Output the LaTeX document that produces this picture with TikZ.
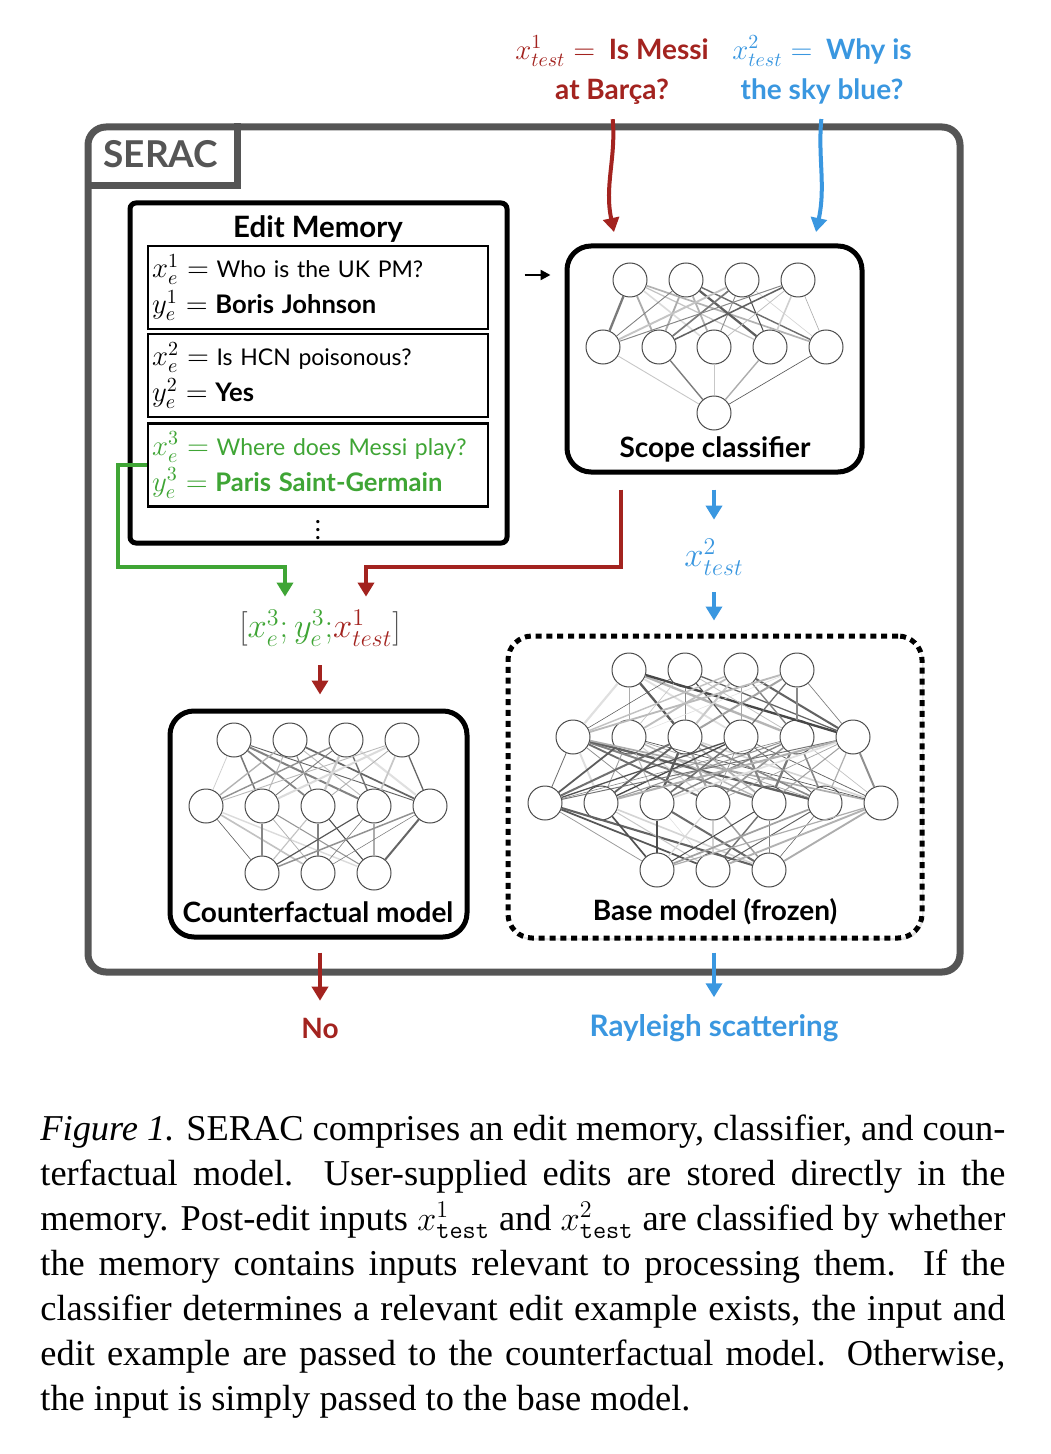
\documentclass[tikz,border=0pt]{standalone}
\usepackage{fontspec}
\setmainfont{Lato}
\newfontfamily\capfont{Liberation Serif}
\usetikzlibrary{arrows.meta,positioning,shadows}
\definecolor{frame}{HTML}{555555}
\definecolor{hitred}{HTML}{A3231F}
\definecolor{missblue}{HTML}{3A97E0}
\definecolor{editgreen}{HTML}{3FA535}
% all connections between two layers of a net, random shade and weight
\newcommand{\wires}[4]{%
  \foreach \i in {1,...,#2}
    \foreach \j in {1,...,#4} {
      \pgfmathsetmacro\g{int(12+62*rnd)}
      \pgfmathsetmacro\w{0.25+0.95*rnd}
      \draw[black!\g, line width=\w pt] (#1\i) -- (#3\j);
    }}
% memory entry pieces
\newcommand{\mv}[2]{{\fontsize{14}{18}\selectfont$#1^{#2}_e=$}}
\newcommand{\ans}[1]{{\fontsize{12.8}{18}\selectfont\bfseries #1}}

\begin{document}
\begin{tikzpicture}[x=0.5pt,y=-0.5pt,
  font=\fontsize{13}{18}\selectfont,
  lift/.style={drop shadow={opacity=0.22, shadow xshift=0.8pt, shadow yshift=-1.2pt}},
  outerbox/.style={draw=frame, line width=3.5pt, rounded corners=9pt, fill=white, lift},
  membox/.style={draw=black, line width=2.5pt, rounded corners=3pt, fill=white, lift},
  entry/.style={draw=black, line width=1.1pt, fill=white, text width=166pt, minimum height=41.5pt,
    inner xsep=2pt, align=left, font=\fontsize{11.5}{18}\selectfont},
  netbox/.style={draw=black, line width=2.5pt, rounded corners=12pt, fill=white, lift},
  frozen/.style={netbox, dash pattern=on 3pt off 2.4pt},
  neuron/.style={circle, draw=black!70, line width=0.5pt, fill=white, minimum size=17pt, inner sep=0pt},
  lbl/.style={font=\fontsize{14}{20}\selectfont\bfseries, align=center},
  flow/.style={line width=2pt, -{Triangle[width=8pt,length=7pt]}},
  hit/.style={flow, draw=hitred},
  miss/.style={flow, draw=missblue},
  edit/.style={flow, draw=editgreen},
]
\useasboundingbox (0,0) rectangle (1050,1454);
\pgfmathsetseed{11}

% SERAC frame with its tab
\node[outerbox, minimum width=436pt, minimum height=422.5pt] (serac) at (524,549.5) {};
\node[anchor=north west, minimum width=76pt, minimum height=30.5pt, inner sep=0pt,
  font=\fontsize{18.5}{20}\selectfont\bfseries, text=frame] (tab) at (serac.north west) {SERAC};
\draw[draw=frame, line width=3.5pt] (tab.north east) -- (tab.south east) -- (tab.south west);

% edit memory
\node[membox, minimum width=188.5pt, minimum height=170pt] (mem) at (318.5,373) {};
\node[font=\fontsize{14.7}{16}\selectfont\bfseries] (memtitle) at (318,229) {Edit Memory};
\node[entry] (e1) at (318,287.5) {\mv{x}{1} Who is the UK PM?\\\mv{y}{1} \ans{Boris Johnson}};
\node[entry] (e2) at (318,375.5) {\mv{x}{2} Is HCN poisonous?\\\mv{y}{2} \ans{Yes}};
\node[entry, text=editgreen] (e3) at (318,465) {\mv{x}{3} Where does Messi play?\\\mv{y}{3} \ans{Paris Saint-Germain}};
\node (dots) at (318,524) {$\vdots$};

% scope classifier
\node[netbox, minimum width=147.5pt, minimum height=113pt] (scope) at (714.5,359) {};
\foreach \k/\x in {1/630,2/686,3/742,4/798} \node[neuron] (sa\k) at (\x,280) {};
\foreach \k/\x in {1/603,2/659,3/714,4/770,5/826} \node[neuron] (sb\k) at (\x,347) {};
\node[neuron] (sc1) at (714,413) {};
\wires{sa}{4}{sb}{5}
\wires{sb}{5}{sc}{1}
\node[lbl] (scopelbl) at (715,449) {Scope classifier};

% counterfactual model
\node[netbox, minimum width=148.5pt, minimum height=113pt] (cf) at (318.5,824) {};
\foreach \k/\x in {1/234,2/290,3/346,4/402} \node[neuron] (ca\k) at (\x,740) {};
\foreach \k/\x in {1/206,2/262,3/318,4/374,5/430} \node[neuron] (cb\k) at (\x,806) {};
\foreach \k/\x in {1/262,2/318,3/374} \node[neuron] (cc\k) at (\x,873) {};
\wires{ca}{4}{cb}{5}
\wires{cb}{5}{cc}{3}
\node[lbl] (cflbl) at (318,912) {Counterfactual model};

% base model
\node[frozen, minimum width=207pt, minimum height=151pt] (base) at (715,787) {};
\foreach \k/\x in {1/629,2/685,3/741,4/797} \node[neuron] (ba\k) at (\x,670) {};
\foreach \k/\x in {1/573,2/629,3/685,4/741,5/797,6/853} \node[neuron] (bb\k) at (\x,737) {};
\foreach \k/\x in {1/545,2/601,3/657,4/713,5/769,6/825,7/881} \node[neuron] (bc\k) at (\x,803) {};
\foreach \k/\x in {1/657,2/713,3/769} \node[neuron] (bd\k) at (\x,870) {};
\wires{ba}{4}{bb}{6}
\wires{bb}{6}{bc}{7}
\wires{bc}{7}{bd}{3}
\node[lbl] (baselbl) at (715,912) {Base model (frozen)};

% test inputs
\node[lbl, text=hitred] (qone) at (612,70) {$x^1_{test}=$\ \ Is Messi\\at Barça?};
\node[lbl, text=missblue] (qtwo) at (822,70) {$x^2_{test}=$\ \ Why is\\the sky blue?};
\coordinate (hitin) at (614,232);
\coordinate (missin) at (816,232);
\draw[hit, shorten <=4pt] (qone.south) to[out=-85,in=102] (hitin);
\draw[miss, shorten <=4pt] (qtwo.south) to[out=-95,in=78] (missin);
\draw[line width=1.2pt, -{Triangle[width=5pt,length=5pt]}, shorten <=7.5pt, shorten >=7pt]
  ([yshift=49pt]mem.east) -- ([yshift=49pt]mem.east -| scope.west);

% --- hit: edit + input -> counterfactual model ---
\node[font=\fontsize{17}{20}\selectfont, text=frame] (inp) at (320,628)
  {$[\textcolor{editgreen}{x^3_e;y^3_e;}\textcolor{hitred}{x^1_{test}}]$};
\coordinate (hitbend) at (366,567);
\coordinate (editbend) at (285,567);
\draw[hit, shorten >=3pt] ([xshift=-46.75pt,yshift=-7.5pt]scope.south) |- (hitbend)
  -- (hitbend |- inp.north);
\draw[edit, shorten >=3pt] (e3.west) -- ++(-29,0) |- (editbend) -- (editbend |- inp.north);
\draw[hit, shorten <=6pt, shorten >=7pt] (inp.south) -- (inp.south |- cf.north);

% --- miss: input -> base model ---
\node[font=\fontsize{17}{20}\selectfont, text=missblue] (xmid) at (714,557) {$x^2_{test}$};
\draw[miss, shorten <=7.5pt, shorten >=6pt] (scope.south -| xmid) -- (xmid.north);
\draw[miss, shorten <=5pt, shorten >=6.5pt] (xmid.south) -- (xmid.south |- base.north);

% outputs
\node[lbl, text=hitred] (no) at (320,1028) {No};
\node[lbl, text=missblue, font=\fontsize{14.8}{20}\selectfont\bfseries] (ray) at (714,1028) {Rayleigh scattering};
\draw[hit, shorten <=6.5pt, shorten >=5pt] (cf.south -| no) -- (no.north);
\draw[miss, shorten <=6pt, shorten >=5pt] (base.south -| ray) -- (ray.north);

% caption
\node[anchor=north west, text width=482.5pt, align=justify, inner sep=0pt,
  font=\capfont\fontsize{18.2}{22.5}\selectfont] (caption) at (40,1114)
  {\textit{Figure 1.} SERAC comprises an edit memory, classifier, and coun-\linebreak
  terfactual model.\ \ User-supplied edits are stored directly in the\linebreak
  memory. Post-edit inputs $x^1_{\mathtt{test}}$ and $x^2_{\mathtt{test}}$ are classified by whether\linebreak
  the memory contains inputs relevant to processing them.\ \ If the\linebreak
  classifier determines a relevant edit example exists, the input and\linebreak
  edit example are passed to the counterfactual model. Otherwise,\linebreak
  the input is simply passed to the base model.};
\end{tikzpicture}
\end{document}
